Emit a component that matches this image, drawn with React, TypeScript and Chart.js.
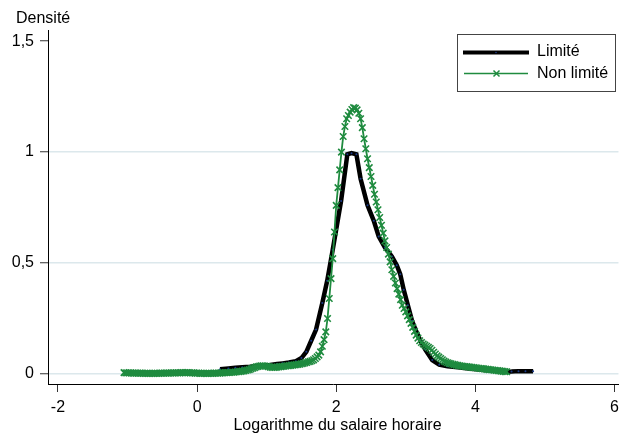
import React, { useEffect, useRef } from "react";
import { Chart, registerables } from "chart.js";

Chart.register(...registerables);

// ---- Data ----
const limiteX = [0.33, 0.45, 0.55, 0.65, 0.76, 0.85, 0.95, 1.05, 1.15, 1.23, 1.32, 1.42, 1.5, 1.57, 1.64, 1.71, 1.8, 1.87, 1.95, 2.07, 2.16, 2.22, 2.29, 2.35, 2.45, 2.54, 2.61, 2.7, 2.8, 2.87, 2.92, 2.97, 3.03, 3.09, 3.14, 3.21, 3.28, 3.38, 3.48, 3.6, 3.75, 3.9, 4.05, 4.2, 4.32, 4.43, 4.52, 4.62, 4.72, 4.83];
const limiteY = [0.022, 0.025, 0.028, 0.031, 0.033, 0.036, 0.039, 0.041, 0.045, 0.048, 0.052, 0.058, 0.072, 0.1, 0.15, 0.2, 0.32, 0.42, 0.56, 0.78, 0.99, 0.995, 0.99, 0.88, 0.76, 0.69, 0.62, 0.57, 0.53, 0.49, 0.45, 0.38, 0.31, 0.24, 0.2, 0.15, 0.11, 0.063, 0.042, 0.035, 0.03, 0.025, 0.02, 0.016, 0.013, 0.01, 0.011, 0.013, 0.013, 0.012];

const nonLimiteX = [
  -1.05, -1.025, -1.0, -0.975, -0.95, -0.925, -0.9, -0.875, -0.85, -0.825, -0.8, -0.775, -0.75, -0.725, -0.7, -0.675, -0.65, -0.625, -0.6, -0.575,
  -0.55, -0.525, -0.5, -0.475, -0.45, -0.425, -0.4, -0.375, -0.35, -0.325, -0.3, -0.275, -0.25, -0.225, -0.2, -0.175, -0.15, -0.125, -0.1, -0.075,
  -0.05, -0.025, 0.0, 0.025, 0.05, 0.075, 0.1, 0.125, 0.15, 0.175, 0.2, 0.225, 0.25, 0.275, 0.3, 0.325, 0.35, 0.375, 0.4, 0.425,
  0.45, 0.475, 0.5, 0.525, 0.55, 0.575, 0.6, 0.625, 0.65, 0.675, 0.7, 0.725, 0.75, 0.775, 0.8, 0.825, 0.85, 0.875, 0.9, 0.925,
  0.95, 0.975, 1.0, 1.025, 1.05, 1.075, 1.1, 1.125, 1.15, 1.175, 1.2, 1.225, 1.25, 1.275, 1.3, 1.325, 1.35, 1.375, 1.4, 1.425,
  1.45, 1.475, 1.5, 1.525, 1.55, 1.575, 1.6, 1.625, 1.65, 1.675, 1.7, 1.725, 1.75, 1.775, 1.8, 1.825, 1.85, 1.875, 1.9, 1.925,
  1.95, 1.975, 2.0, 2.025, 2.05, 2.075, 2.1, 2.125, 2.15, 2.175, 2.2, 2.225, 2.25, 2.275, 2.3, 2.325, 2.35, 2.375, 2.4, 2.425,
  2.45, 2.475, 2.5, 2.525, 2.55, 2.575, 2.6, 2.625, 2.65, 2.675, 2.7, 2.725, 2.75, 2.775, 2.8, 2.825, 2.85, 2.875, 2.9, 2.925,
  2.95, 2.975, 3.0, 3.025, 3.05, 3.075, 3.1, 3.125, 3.15, 3.175, 3.2, 3.225, 3.25, 3.275, 3.3, 3.325, 3.35, 3.375, 3.4, 3.425,
  3.45, 3.475, 3.5, 3.525, 3.55, 3.575, 3.6, 3.625, 3.65, 3.675, 3.7, 3.725, 3.75, 3.775, 3.8, 3.825, 3.85, 3.875, 3.9, 3.925,
  3.95, 3.975, 4.0, 4.025, 4.05, 4.075, 4.1, 4.125, 4.15, 4.175, 4.2, 4.225, 4.25, 4.275, 4.3, 4.325, 4.35, 4.375, 4.4, 4.425,
  4.45,
];
const nonLimiteY = [
  0.006, 0.005, 0.005, 0.005, 0.005, 0.004, 0.004, 0.004, 0.004, 0.004, 0.004, 0.003, 0.003, 0.003, 0.003, 0.003, 0.003, 0.003, 0.003, 0.003,
  0.003, 0.004, 0.004, 0.004, 0.004, 0.004, 0.004, 0.005, 0.005, 0.005, 0.005, 0.005, 0.005, 0.006, 0.006, 0.006, 0.006, 0.006, 0.005, 0.005,
  0.005, 0.004, 0.004, 0.004, 0.003, 0.003, 0.003, 0.003, 0.003, 0.003, 0.003, 0.003, 0.004, 0.004, 0.004, 0.004, 0.005, 0.005, 0.006, 0.006,
  0.007, 0.007, 0.008, 0.008, 0.009, 0.01, 0.011, 0.012, 0.013, 0.014, 0.016, 0.018, 0.02, 0.023, 0.026, 0.029, 0.032, 0.034, 0.036, 0.037,
  0.037, 0.036, 0.035, 0.033, 0.031, 0.03, 0.03, 0.03, 0.031, 0.032, 0.033, 0.034, 0.035, 0.036, 0.037, 0.038, 0.039, 0.04, 0.041, 0.042,
  0.043, 0.044, 0.046, 0.048, 0.05, 0.052, 0.055, 0.057, 0.06, 0.064, 0.07, 0.077, 0.085, 0.1, 0.125, 0.155, 0.19, 0.25, 0.34, 0.43,
  0.52, 0.64, 0.76, 0.84, 0.92, 1.0, 1.07, 1.115, 1.15, 1.165, 1.18, 1.192, 1.2, 1.198, 1.19, 1.175, 1.15, 1.11, 1.06, 1.015,
  0.97, 0.93, 0.89, 0.85, 0.81, 0.775, 0.74, 0.705, 0.67, 0.635, 0.6, 0.57, 0.54, 0.505, 0.47, 0.44, 0.41, 0.385, 0.36, 0.335,
  0.31, 0.295, 0.28, 0.262, 0.245, 0.228, 0.21, 0.192, 0.175, 0.162, 0.15, 0.142, 0.135, 0.13, 0.125, 0.12, 0.115, 0.107, 0.098, 0.09,
  0.082, 0.076, 0.07, 0.064, 0.058, 0.054, 0.051, 0.048, 0.046, 0.044, 0.042, 0.04, 0.039, 0.037, 0.036, 0.035, 0.034, 0.033, 0.032, 0.031,
  0.03, 0.029, 0.028, 0.027, 0.026, 0.025, 0.024, 0.023, 0.022, 0.021, 0.02, 0.019, 0.018, 0.017, 0.016, 0.015, 0.014, 0.013, 0.012, 0.011,
  0.01,
];

const xTicks = [-2, 0, 2, 4, 6];
const yTicks = [0, 0.5, 1, 1.5];
const yTickLabels = ["0", "0,5", "1", "1,5"];
const seriesNames = ["Limité", "Non limité"];
const xTitle = "Logarithme du salaire horaire";
const yTitle = "Densité";

const FONT = "'Liberation Sans', Arial, sans-serif";
const GREEN = "#1f8b3f";
const BLACK = "#000000";

const textPlugin = {
  id: "stataText",
  afterDraw(chart: any) {
    const ctx = chart.ctx;
    ctx.save();
    ctx.fillStyle = "#000";
    ctx.font = `16px ${FONT}`;
    ctx.textBaseline = "alphabetic";
    ctx.textAlign = "left";
    ctx.fillText(yTitle, 16, 23);
    ctx.textAlign = "center";
    ctx.fillText(xTitle, 337.5, 430);

    // legend box
    const bx = 457.5, by = 34.5, bw = 158, bh = 57;
    ctx.fillStyle = "#fff";
    ctx.fillRect(bx, by, bw, bh);
    ctx.strokeStyle = "#444";
    ctx.lineWidth = 1;
    ctx.strokeRect(bx, by, bw, bh);

    // Limité sample
    ctx.strokeStyle = BLACK;
    ctx.lineWidth = 4;
    ctx.beginPath();
    ctx.moveTo(463, 52.5);
    ctx.lineTo(529, 52.5);
    ctx.stroke();
    ctx.fillStyle = "#1a3a8a";
    ctx.beginPath();
    ctx.arc(496, 52.5, 0.8, 0, Math.PI * 2);
    ctx.fill();

    // Non limité sample
    ctx.strokeStyle = GREEN;
    ctx.lineWidth = 1.5;
    ctx.beginPath();
    ctx.moveTo(464, 73.5);
    ctx.lineTo(528, 73.5);
    ctx.stroke();
    const r = 3;
    ctx.lineWidth = 1.5;
    ctx.beginPath();
    ctx.moveTo(496.5 - r, 73.5 - r);
    ctx.lineTo(496.5 + r, 73.5 + r);
    ctx.moveTo(496.5 + r, 73.5 - r);
    ctx.lineTo(496.5 - r, 73.5 + r);
    ctx.stroke();

    ctx.fillStyle = "#000";
    ctx.font = `16px ${FONT}`;
    ctx.textAlign = "left";
    ctx.fillText(seriesNames[0], 537, 56);
    ctx.fillText(seriesNames[1], 537, 77.5);
    ctx.restore();
  },
};

export default function App() {
  const ref = useRef<HTMLCanvasElement | null>(null);

  useEffect(() => {
    if (!ref.current) return;
    const chart = new Chart(ref.current, {
      type: "line",
      data: {
        datasets: [
          {
            label: seriesNames[0],
            data: limiteX.map((x, i) => ({ x, y: limiteY[i] })),
            borderColor: BLACK,
            borderWidth: 4.5,
            pointRadius: 1,
            pointBackgroundColor: "#1a3a8a",
            pointBorderWidth: 0,
            tension: 0,
            order: 2,
          },
          {
            label: seriesNames[1],
            data: nonLimiteX.map((x, i) => ({ x, y: nonLimiteY[i] })),
            borderColor: GREEN,
            borderWidth: 1.8,
            pointStyle: "crossRot",
            pointRadius: 4.6,
            pointBorderColor: GREEN,
            pointBorderWidth: 1.6,
            tension: 0,
            order: 1,
          },
        ],
      },
      options: {
        responsive: false,
        animation: false,
        devicePixelRatio: 1,
        layout: { padding: { top: 30, right: 3, left: 0, bottom: 0 } },
        plugins: {
          legend: { display: false },
          tooltip: { enabled: false },
        },
        scales: {
          x: {
            type: "linear",
            min: -2.143,
            max: 6.057,
            afterBuildTicks: (s: any) => {
              s.ticks = xTicks.map((v) => ({ value: v }));
            },
            afterFit: (s: any) => {
              s.height = 53;
            },
            ticks: {
              callback: (v: any) => String(v),
              font: { family: FONT, size: 16 },
              color: "#000",
              padding: 6,
              maxRotation: 0,
              autoSkip: false,
            },
            grid: {
              drawOnChartArea: false,
              drawTicks: true,
              tickLength: 8,
              tickColor: "#333",
              tickWidth: 1,
            },
            border: { display: true, color: "#000", width: 1 },
          },
          y: {
            type: "linear",
            min: -0.045,
            max: 1.55,
            afterBuildTicks: (s: any) => {
              s.ticks = yTicks.map((v) => ({ value: v }));
            },
            afterFit: (s: any) => {
              s.width = 48;
            },
            ticks: {
              callback: (v: any) => {
                const i = yTicks.indexOf(Number(v));
                return i >= 0 ? yTickLabels[i] : "";
              },
              font: { family: FONT, size: 16 },
              color: "#000",
              padding: 6,
              autoSkip: false,
            },
            grid: {
              drawOnChartArea: true,
              color: (c: any) => (c.tick && c.tick.value === 1.5 ? "rgba(0,0,0,0)" : "#dce8ec"),
              lineWidth: 1.5,
              drawTicks: true,
              tickLength: 8,
              tickColor: "#333",
              tickWidth: 1,
            },
            border: { display: true, color: "#000", width: 1 },
          },
        },
      },
      plugins: [textPlugin],
    });
    return () => chart.destroy();
  }, []);

  return (
    <div style={{ position: "absolute", left: 0, top: 0, width: 625, height: 437, background: "#fff" }}>
      <canvas ref={ref} width={625} height={437} />
    </div>
  );
}
